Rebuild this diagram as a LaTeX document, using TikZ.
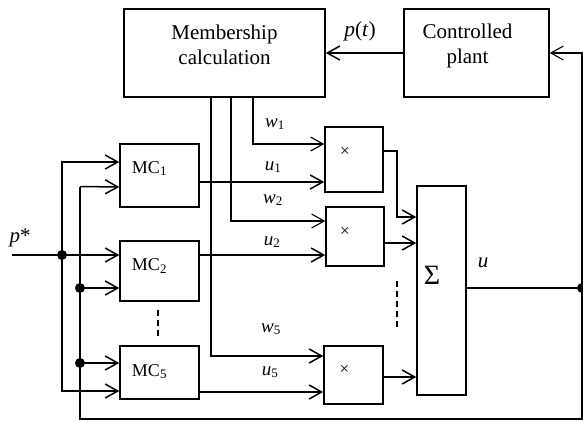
\documentclass[tikz,border=0pt]{standalone}
\usepackage{fontspec}
\setmainfont{Liberation Serif}
\usetikzlibrary{arrows.meta}
\tikzset{
  >={Straight Barb[length=12.5pt,width=14pt]},
  every picture/.style={line width=1.5pt},
  blk/.style={draw, line width=1.6pt, inner sep=0pt},
  bigtxt/.style={font=\fontsize{21}{25.5}\selectfont, align=center},
  mctxt/.style={font=\fontsize{18}{20}\selectfont},
  lbl/.style={font=\fontsize{19}{21}\selectfont, inner sep=0pt},
  multxt/.style={font=\fontsize{17}{19}\selectfont},
  thinline/.style={line width=1.1pt},
  thickline/.style={line width=2.6pt},
  dot/.style={circle, fill, inner sep=0pt, minimum size=10pt},
  dashline/.style={dashed, dash pattern=on 6pt off 4pt, line width=1.4pt}
}
\newcommand{\sub}[1]{\textsubscript{\fontsize{13}{14}\selectfont #1}}
\begin{document}
\begin{tikzpicture}[x=1pt,y=-1pt]
\useasboundingbox (0,0) rectangle (583,421);
% blocks
\node[blk, minimum width=201pt, minimum height=88pt,
  label={[bigtxt,yshift=8pt]center:Membership\\calculation}] (mem) at (224.5,53) {};
\node[blk, minimum width=145pt, minimum height=88pt,
  label={[bigtxt,xshift=-9pt,yshift=7pt]center:Controlled\\plant}] (plant) at (476.5,53) {};
\node[blk, minimum width=79pt, minimum height=63pt,
  label={[mctxt,xshift=-10pt,yshift=7pt]center:MC\sub{1}}] (mc1) at (159.5,175.5) {};
\node[blk, minimum width=79pt, minimum height=60pt,
  label={[mctxt,xshift=-10pt,yshift=5pt]center:MC\sub{2}}] (mc2) at (159.5,271) {};
\node[blk, minimum width=79pt, minimum height=53pt,
  label={[mctxt,xshift=-10pt,yshift=1pt]center:MC\sub{5}}] (mc5) at (159.5,372.5) {};
\node[blk, minimum width=58pt, minimum height=65pt,
  label={[multxt,xshift=-9pt,yshift=8pt]center:×}] (p1) at (354,159.5) {};
\node[blk, minimum width=58pt, minimum height=59pt,
  label={[multxt,xshift=-10pt,yshift=5pt]center:×}] (p2) at (355,236.5) {};
\node[blk, minimum width=59pt, minimum height=58pt,
  label={[multxt,xshift=-9pt,yshift=5pt]center:×}] (p5) at (353.5,375) {};
\node[blk, minimum width=49pt, minimum height=209pt,
  label={[font=\fontsize{28}{30}\selectfont,xshift=-9.5pt,yshift=15pt]center:Σ}] (sum) at (441.5,290.5) {};
% coordinates
\coordinate (fb) at (582,288);
\coordinate (pin) at (12,255);
\coordinate (pd) at (62,255);
\coordinate (ca) at (80,288);
\coordinate (cb) at (80,363);
% plant to membership
\draw[->] (plant.west) -- (mem.east);
\node[font=\fontsize{21.5}{23}\selectfont, inner sep=0pt] (pt) at (360,31) {\textit{p}(\textit{t})};
% sum output and feedback
\draw (sum.east |- fb) -- (fb);
\node[font=\fontsize{21}{22}\selectfont\itshape, inner sep=0pt] (ulbl) at (483,263) {u};
\draw[thinline,->] (fb) -- (582,53) -- (plant.east);
\draw[line width=1.9pt] (fb) -- (582,419) -- (80,419) -- (ca);
\draw[thickline] (ca) -- (cb) -- (80,419);
\draw[thickline] (ca) -- (80,187);
\draw[->] (80,186.5) -- (mc1.west |- 0,187);
\draw[->] (ca) -- (mc2.west |- ca);
\draw[->] (cb) -- (mc5.west |- cb);
\node[dot] (dfb) at (fb) {};
\node[dot] (dca) at (ca) {};
\node[dot] (dcb) at (cb) {};
% reference input
\draw[->] (pin) -- (mc2.west |- pin);
\node[font=\fontsize{21}{22}\selectfont, inner sep=0pt] (pstar) at (20,238) {\textit{p}*};
\draw[->] (pd) -- (62,162) -- (mc1.west |- 0,162);
\draw[->] (pd) -- (62,391) -- (mc5.west |- 0,391);
\node[dot] (dpd) at (pd) {};
% weights from membership
\draw[thickline] (mem.south -| 211,0) -- (211,356) -- (300,356);
\draw[->] (300,356) -- (p5.west |- 0,356);
\draw[thinline,->] (mem.south -| 231,0) -- (231,221) -- (p2.west |- 0,221);
\draw[thinline,->] (mem.south -| 253,0) -- (253,144) -- (p1.west |- 0,144);
% MC outputs
\draw[->] (mc1.east |- 0,182) -- (p1.west |- 0,182);
\draw[->] (mc2.east |- pin) -- (p2.west |- pin);
\draw[->] (mc5.east |- 0,392) -- (p5.west |- 0,392);
% products to sum
\draw[->] (p1.east |- 0,151) -- (397,151) -- (397,217) -- (sum.west |- 0,217);
\draw[->] (p2.east |- 0,243) -- (sum.west |- 0,243);
\draw[->] (p5.east |- 0,377) -- (sum.west |- 0,377);
% labels
\node[lbl] (lw1) at (275,124) {\textit{w}\sub{1}};
\node[lbl] (lu1) at (273,167) {\textit{u}\sub{1}};
\node[lbl] (lw2) at (273,200) {\textit{w}\sub{2}};
\node[lbl] (lu2) at (272,242) {\textit{u}\sub{2}};
\node[lbl] (lw5) at (271,329) {\textit{w}\sub{5}};
\node[lbl] (lu5) at (270,372) {\textit{u}\sub{5}};
% dashed continuation marks
\draw[dashline] (158,310) -- (158,338);
\draw[dashline] (397,281) -- (397,330);
\end{tikzpicture}
\end{document}
